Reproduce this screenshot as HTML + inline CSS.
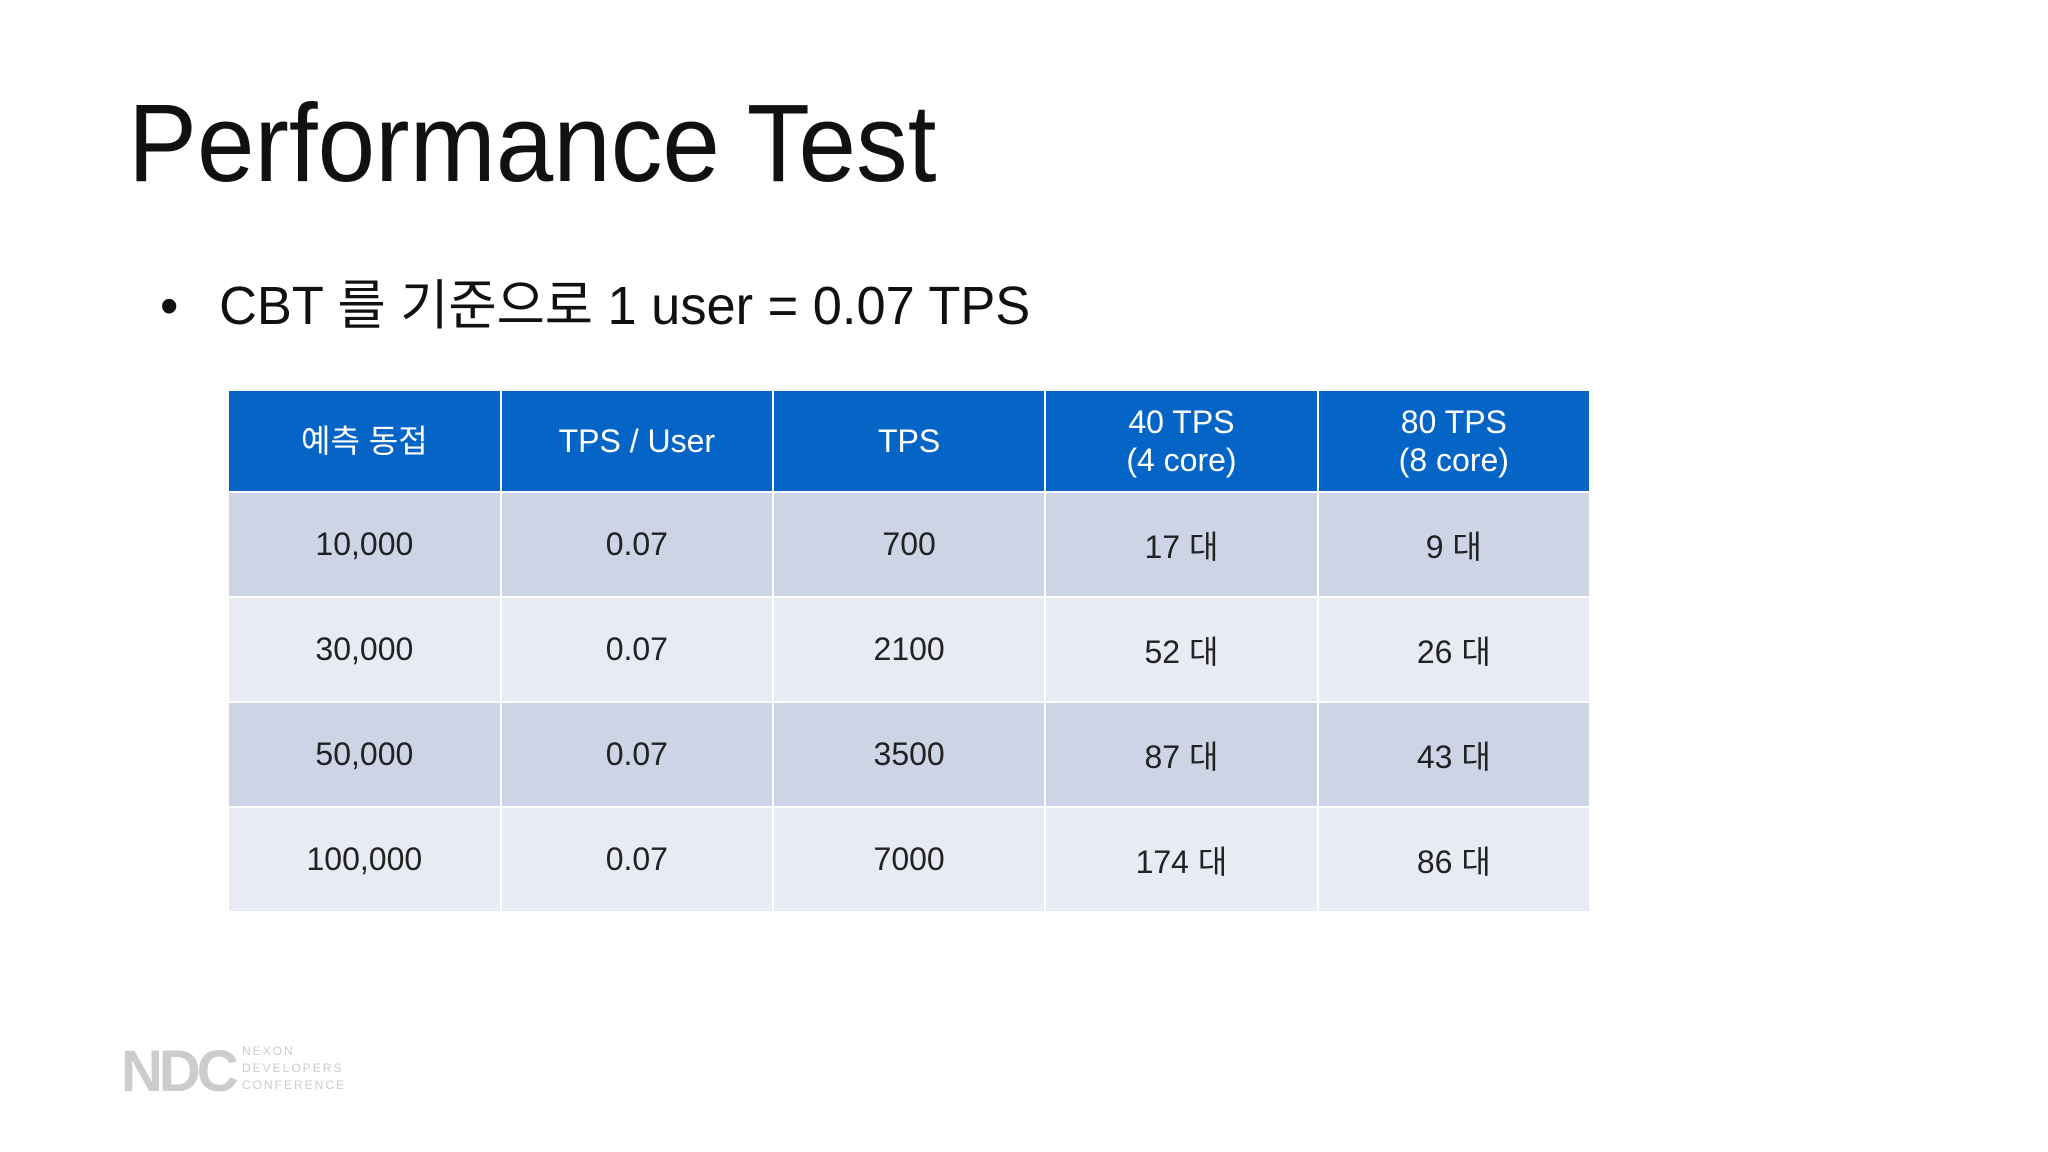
<!DOCTYPE html>
<html><head><meta charset="utf-8"><style>
body{margin:0;width:2048px;height:1152px;background:#fff;overflow:hidden;position:relative;font-family:"Liberation Sans","Noto Sans CJK KR",sans-serif;}
#title{position:absolute;left:128px;top:80px;font-size:110px;color:#111;transform:scaleX(0.94);transform-origin:left top;white-space:nowrap;}
#bullet{position:absolute;left:160px;top:261px;font-size:54px;color:#111;transform:scaleX(0.97);transform-origin:left top;white-space:nowrap;}
#bullet span{margin-right:42px;}
table{position:absolute;left:227px;top:389px;border-collapse:collapse;width:1364px;}
td,th{width:272px;text-align:center;font-size:32px;color:#222;border:2px solid #fff;font-weight:normal;padding:0;}
th{background:#0565C6;color:#fff;height:100px;line-height:38px;}
tr.a td{background:#CDD4E6;height:103px;}
tr.b td{background:#E8EBF4;height:103px;}
#logo{position:absolute;left:121px;top:1038px;color:#ccc;font-size:58px;font-weight:bold;letter-spacing:-4px;}
#logo2{position:absolute;left:242px;top:1043px;color:#ccc;font-size:12px;line-height:17px;letter-spacing:2px;}
</style></head><body>
<div id="title">Performance Test</div>
<div id="bullet"><span>•</span>CBT 를 기준으로 1 user = 0.07 TPS</div>
<table>
<tr><th>예측 동접</th><th>TPS / User</th><th>TPS</th><th>40 TPS<br>(4 core)</th><th>80 TPS<br>(8 core)</th></tr>
<tr class="a"><td>10,000</td><td>0.07</td><td>700</td><td>17 대</td><td>9 대</td></tr>
<tr class="b"><td>30,000</td><td>0.07</td><td>2100</td><td>52 대</td><td>26 대</td></tr>
<tr class="a"><td>50,000</td><td>0.07</td><td>3500</td><td>87 대</td><td>43 대</td></tr>
<tr class="b"><td>100,000</td><td>0.07</td><td>7000</td><td>174 대</td><td>86 대</td></tr>
</table>
<div id="logo">NDC</div>
<div id="logo2">NEXON<br>DEVELOPERS<br>CONFERENCE</div>
</body></html>
